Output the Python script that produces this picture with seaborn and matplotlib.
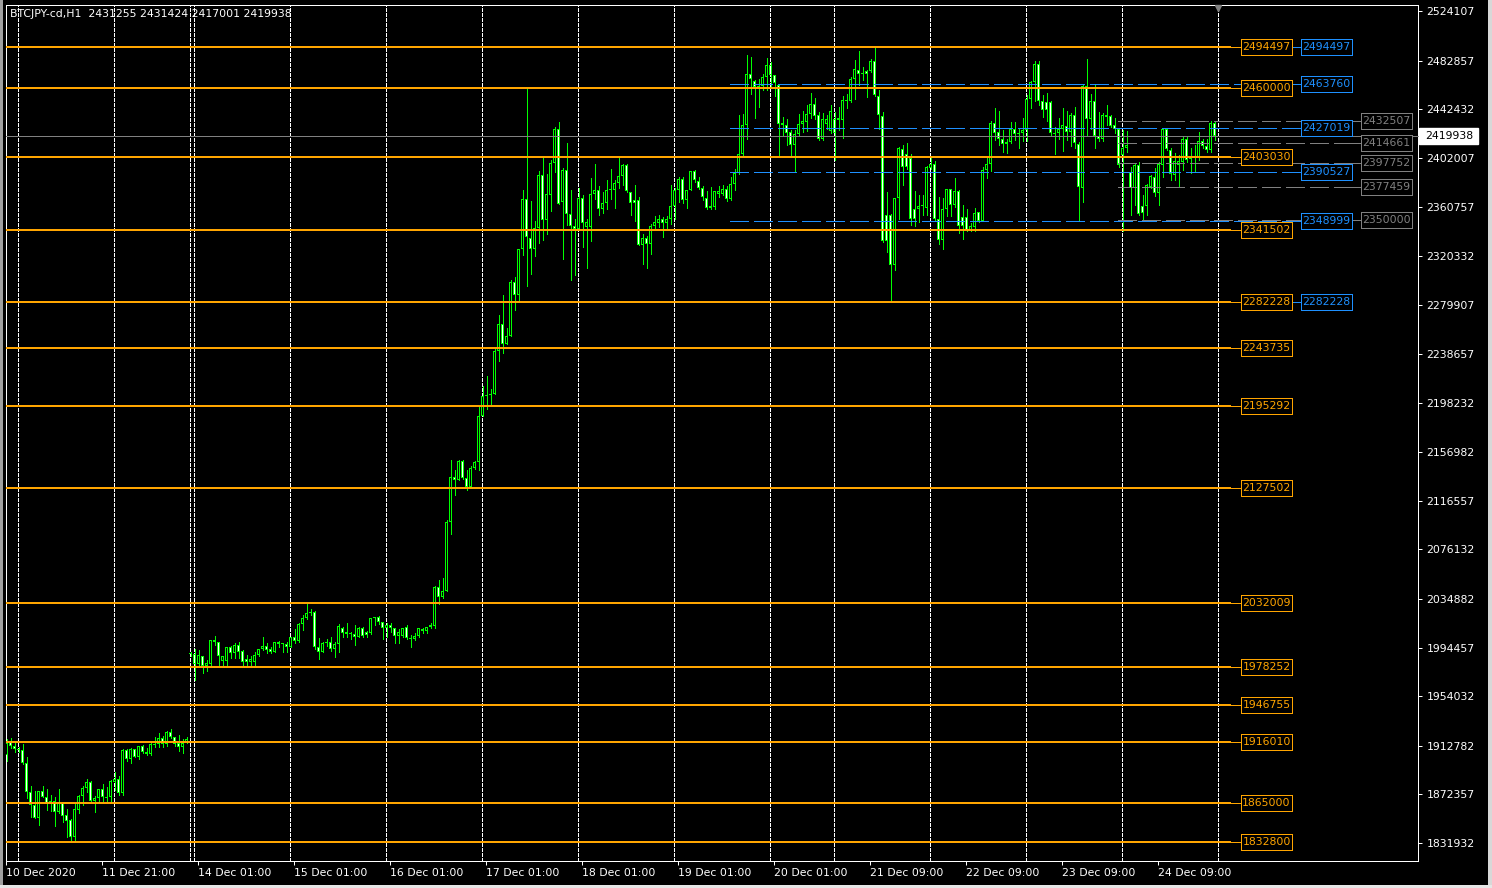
import matplotlib
matplotlib.use("Agg")
import matplotlib.pyplot as plt
from matplotlib.patches import Rectangle
import seaborn as sns

# BTCJPY H1 candles, prices in thousands of JPY
opens = [
    1905.1, 1916.2, 1912.8, 1909.8, 1909.2, 1898.7, 1874.6, 1863.5, 1853.0, 1875.1,
    1870.4, 1864.3, 1867.1, 1857.9, 1865.4, 1854.9, 1851.0, 1837.1, 1859.3, 1871.3,
    1877.4, 1882.9, 1867.1, 1869.6, 1876.5, 1869.9, 1869.9, 1882.9, 1884.8, 1873.8,
    1909.2, 1901.5, 1909.8, 1903.1, 1912.6, 1907.9, 1905.6, 1913.1, 1914.2, 1919.0,
    1914.2, 1924.5, 1919.8, 1914.8, 1912.0, 1915.3, 1989.2, 1989.2, 1980.8, 1987.5,
    1979.2, 1980.8, 2000.8, 1998.9, 1983.6, 1983.6, 1994.7, 1990.3, 1996.6, 1991.6,
    1985.0, 1982.8, 1982.8, 1988.3, 1993.0, 1995.8, 1993.3, 1991.1, 1998.9, 1998.0,
    1997.5, 1995.3, 2003.0, 2000.3, 2013.8, 2018.8, 2023.0, 2024.1, 1995.3, 1991.1,
    1998.6, 1998.9, 1993.0, 1997.5, 2010.5, 2007.2, 2006.1, 2005.8, 2003.6, 2011.1,
    2007.5, 2006.4, 2019.1, 2019.7, 2015.5, 2010.5, 2013.0, 2010.5, 2004.4, 2004.4,
    2011.3, 2002.2, 2001.4, 2004.1, 2009.7, 2008.0, 2011.3, 2012.4, 2044.7, 2036.7,
    2041.9, 2099.1, 2136.3, 2134.0, 2149.7, 2135.4, 2128.3, 2144.0, 2148.9, 2187.0,
    2204.1, 2204.7, 2205.6, 2241.3, 2263.4, 2247.1, 2253.8, 2298.6, 2288.0, 2325.8,
    2367.3, 2334.9, 2325.8, 2343.5, 2388.0, 2349.9, 2370.7, 2397.6, 2425.6, 2365.1,
    2391.5, 2355.4, 2344.9, 2342.4, 2368.5, 2344.3, 2344.3, 2371.5, 2374.8, 2359.0,
    2364.3, 2374.8, 2374.8, 2381.2, 2386.5, 2396.2, 2373.4, 2366.5, 2366.5, 2329.1,
    2335.2, 2330.5, 2344.9, 2347.9, 2350.7, 2347.9, 2350.7, 2361.5, 2374.8, 2384.0,
    2366.5, 2374.8, 2390.6, 2382.3, 2376.8, 2368.5, 2360.1, 2361.0, 2372.1, 2372.1,
    2375.7, 2367.3, 2380.4, 2389.5, 2405.5, 2429.6, 2471.5, 2465.7, 2461.0, 2461.8,
    2469.3, 2479.0, 2470.7, 2462.9, 2431.3, 2429.1, 2423.5, 2413.0, 2422.1, 2430.5,
    2431.8, 2438.8, 2446.5, 2437.9, 2417.4, 2430.5, 2424.1, 2434.6, 2433.2, 2433.2,
    2449.0, 2449.0, 2467.3, 2474.8, 2471.5, 2474.0, 2474.0, 2482.3, 2453.5, 2436.8,
    2354.2, 2354.2, 2312.6, 2368.6, 2409.7, 2405.5, 2401.9, 2359.2, 2359.2, 2361.7,
    2360.6, 2393.6, 2396.6, 2350.9, 2333.4, 2359.2, 2375.8, 2362.5, 2374.2, 2352.8,
    2353.1, 2342.0, 2344.8, 2356.5, 2349.0, 2392.0, 2396.7, 2431.3, 2423.8, 2417.7,
    2415.5, 2415.5, 2426.1, 2423.0, 2422.5, 2425.2, 2451.0, 2464.9, 2480.1, 2449.4,
    2448.8, 2448.3, 2423.0, 2422.5, 2426.1, 2428.8, 2423.3, 2437.7, 2413.3, 2376.7,
    2461.3, 2434.4, 2449.4, 2420.2, 2417.7, 2437.7, 2436.9, 2429.4, 2426.1, 2403.9,
    2410.0, 2390.0, 2376.7, 2396.1, 2361.5, 2361.5, 2378.1, 2385.6, 2372.5, 2396.1,
    2426.1, 2408.6, 2387.8, 2396.1, 2398.9, 2417.7, 2401.2, 2402.1, 2401.7, 2416.1,
    2411.4, 2408.6, 2431.255,
]
highs = [
    1918.1, 1919.0, 1914.8, 1911.5, 1914.2, 1903.7, 1879.3, 1875.4, 1875.1, 1879.3,
    1876.5, 1871.8, 1869.9, 1876.8, 1865.4, 1859.9, 1851.6, 1864.9, 1871.8, 1879.3,
    1884.8, 1883.5, 1871.0, 1876.5, 1881.0, 1878.7, 1884.3, 1891.2, 1887.6, 1909.8,
    1910.1, 1910.6, 1910.1, 1912.6, 1913.4, 1910.6, 1914.8, 1920.3, 1923.1, 1920.9,
    1925.0, 1926.7, 1920.3, 1921.7, 1918.1, 1919.8, 1990.8, 1993.0, 1992.5, 1987.5,
    1984.2, 2000.8, 2004.1, 1999.4, 1987.5, 1995.3, 1995.8, 1998.0, 1998.9, 1992.5,
    1988.3, 1987.5, 1991.1, 1993.0, 2003.6, 1998.0, 1995.3, 1999.4, 2000.0, 1998.6,
    1998.9, 2003.0, 2009.7, 2014.7, 2021.6, 2030.8, 2026.3, 2024.7, 2002.2, 1999.4,
    2001.4, 2003.0, 1998.9, 2014.1, 2011.3, 2014.7, 2007.7, 2013.3, 2011.9, 2011.9,
    2008.6, 2019.4, 2019.4, 2020.8, 2016.1, 2014.7, 2014.7, 2011.1, 2009.7, 2010.5,
    2013.3, 2005.0, 2006.4, 2011.1, 2010.5, 2011.9, 2014.7, 2045.5, 2050.4, 2052.4,
    2100.3, 2150.3, 2142.6, 2150.3, 2150.3, 2142.6, 2145.5, 2149.8, 2195.6, 2211.9,
    2220.4, 2209.3, 2243.3, 2270.8, 2288.0, 2260.0, 2300.6, 2302.9, 2326.3, 2375.0,
    2459.7, 2365.8, 2349.2, 2390.7, 2401.7, 2388.7, 2399.8, 2427.5, 2431.7, 2393.4,
    2414.2, 2374.8, 2350.7, 2376.8, 2370.7, 2350.7, 2385.1, 2397.0, 2378.4, 2373.4,
    2383.2, 2392.9, 2383.2, 2401.7, 2397.0, 2397.0, 2373.4, 2379.0, 2369.3, 2338.8,
    2336.8, 2347.1, 2353.5, 2354.0, 2352.7, 2353.5, 2379.0, 2376.8, 2385.9, 2385.9,
    2374.8, 2390.6, 2391.5, 2385.9, 2378.4, 2374.0, 2377.6, 2374.0, 2378.4, 2379.5,
    2378.4, 2385.9, 2392.9, 2437.2, 2438.8, 2487.3, 2485.9, 2466.5, 2467.9, 2472.1,
    2485.1, 2481.8, 2471.2, 2463.7, 2436.0, 2434.1, 2424.9, 2424.9, 2438.8, 2440.7,
    2445.7, 2456.3, 2451.8, 2440.2, 2439.6, 2437.4, 2445.7, 2440.2, 2444.3, 2453.5,
    2455.4, 2469.3, 2483.1, 2490.6, 2477.6, 2474.8, 2484.5, 2493.4, 2458.2, 2440.2,
    2373.6, 2355.6, 2368.6, 2411.0, 2412.4, 2414.4, 2405.5, 2374.2, 2370.8, 2371.4,
    2395.2, 2401.9, 2399.1, 2369.5, 2368.6, 2376.4, 2376.4, 2385.3, 2375.0, 2362.5,
    2359.5, 2347.6, 2360.1, 2357.3, 2394.7, 2402.2, 2432.2, 2443.3, 2441.0, 2425.2,
    2417.7, 2431.6, 2431.6, 2426.1, 2434.9, 2454.4, 2466.0, 2482.6, 2482.6, 2454.4,
    2455.7, 2449.4, 2428.0, 2435.5, 2443.3, 2440.5, 2439.1, 2444.6, 2415.0, 2462.7,
    2484.3, 2454.9, 2463.2, 2439.9, 2439.1, 2445.5, 2437.7, 2435.5, 2426.6, 2424.7,
    2424.4, 2394.7, 2396.7, 2398.1, 2371.2, 2380.0, 2387.8, 2393.9, 2398.9, 2426.6,
    2426.6, 2410.0, 2405.8, 2403.9, 2418.9, 2420.5, 2410.0, 2412.8, 2423.3, 2417.7,
    2417.7, 2432.2, 2431.424,
]
lows = [
    1900.4, 1910.6, 1907.9, 1907.3, 1897.6, 1869.0, 1853.8, 1852.4, 1846.9, 1869.9,
    1859.3, 1858.8, 1846.0, 1857.1, 1849.6, 1837.1, 1833.8, 1834.4, 1856.6, 1863.5,
    1874.6, 1866.3, 1857.9, 1866.3, 1866.8, 1866.3, 1866.3, 1876.0, 1871.8, 1871.8,
    1900.4, 1898.7, 1903.1, 1901.5, 1906.5, 1905.1, 1905.1, 1912.0, 1911.5, 1912.0,
    1912.6, 1919.0, 1912.6, 1908.7, 1906.5, 1914.8, 1987.8, 1967.5, 1980.0, 1973.1,
    1975.3, 1979.2, 1996.6, 1979.2, 1979.2, 1979.2, 1985.6, 1985.6, 1985.6, 1980.0,
    1979.2, 1980.0, 1979.2, 1987.5, 1992.5, 1990.3, 1989.7, 1990.5, 1995.3, 1991.1,
    1991.1, 1994.7, 1998.6, 1999.4, 2009.1, 2018.0, 2021.6, 1993.0, 1984.7, 1990.5,
    1995.8, 1991.9, 1987.0, 1991.1, 2003.0, 2003.6, 2001.4, 1996.6, 2003.0, 2003.0,
    2003.6, 2005.8, 2013.3, 2013.8, 2001.6, 2003.6, 2007.7, 1998.0, 1998.6, 2003.6,
    2001.4, 1995.3, 2000.8, 2003.6, 2006.4, 2006.9, 2010.5, 2011.0, 2030.4, 2035.8,
    2041.9, 2088.8, 2121.1, 2134.0, 2134.6, 2125.4, 2128.3, 2143.2, 2142.6, 2187.0,
    2192.7, 2196.4, 2205.6, 2232.7, 2239.9, 2247.1, 2253.8, 2275.7, 2282.8, 2321.5,
    2295.7, 2305.2, 2320.0, 2331.5, 2333.8, 2338.8, 2357.4, 2390.1, 2363.7, 2318.0,
    2346.3, 2300.0, 2304.1, 2341.6, 2327.7, 2310.2, 2332.7, 2367.3, 2354.6, 2356.0,
    2359.6, 2367.3, 2360.1, 2376.8, 2379.0, 2373.4, 2354.6, 2349.0, 2329.1, 2313.8,
    2310.2, 2322.1, 2341.6, 2344.3, 2336.0, 2341.6, 2347.1, 2351.3, 2365.1, 2364.6,
    2360.1, 2374.8, 2381.8, 2375.7, 2366.5, 2359.0, 2359.6, 2359.0, 2369.3, 2371.2,
    2365.7, 2366.5, 2374.8, 2388.7, 2404.7, 2418.0, 2455.4, 2435.2, 2444.3, 2458.2,
    2458.2, 2461.0, 2453.5, 2403.6, 2421.3, 2412.4, 2404.1, 2390.3, 2421.3, 2423.5,
    2424.1, 2435.2, 2434.1, 2416.6, 2416.6, 2425.7, 2423.0, 2400.0, 2424.9, 2418.5,
    2443.0, 2448.5, 2451.3, 2462.4, 2466.5, 2452.6, 2473.4, 2453.5, 2425.7, 2332.0,
    2323.7, 2282.1, 2308.4, 2351.4, 2379.7, 2393.0, 2346.4, 2345.3, 2348.7, 2354.2,
    2354.2, 2393.0, 2350.0, 2330.6, 2325.9, 2353.6, 2353.6, 2361.1, 2339.8, 2334.8,
    2340.7, 2340.7, 2340.7, 2348.4, 2349.0, 2385.0, 2390.6, 2416.9, 2412.8, 2407.2,
    2405.8, 2414.1, 2416.9, 2410.5, 2416.1, 2416.1, 2443.3, 2449.4, 2446.0, 2436.3,
    2432.7, 2421.1, 2405.0, 2417.7, 2407.8, 2416.9, 2412.2, 2410.0, 2349.0, 2365.6,
    2419.7, 2426.1, 2410.0, 2416.1, 2416.1, 2429.4, 2428.0, 2422.5, 2394.7, 2340.7,
    2407.2, 2354.5, 2362.8, 2354.5, 2350.4, 2354.5, 2376.7, 2370.6, 2362.8, 2385.6,
    2408.6, 2383.6, 2383.6, 2377.3, 2392.0, 2398.3, 2389.2, 2391.1, 2400.3, 2410.0,
    2407.2, 2407.2, 2417.001,
]
closes = [
    1915.3, 1912.8, 1909.8, 1909.2, 1898.7, 1874.6, 1863.5, 1853.0, 1875.1, 1870.4,
    1865.4, 1867.1, 1857.9, 1865.4, 1854.3, 1850.5, 1837.1, 1859.9, 1871.3, 1877.4,
    1882.9, 1867.1, 1869.6, 1876.5, 1869.9, 1869.6, 1883.5, 1884.8, 1873.2, 1909.2,
    1901.5, 1909.8, 1903.7, 1912.6, 1907.9, 1905.6, 1914.2, 1914.0, 1919.0, 1914.2,
    1924.5, 1919.8, 1914.0, 1912.0, 1915.3, 1918.7, 1989.4, 1980.8, 1988.0, 1979.2,
    1981.4, 2000.8, 1999.1, 1987.8, 1987.2, 1994.7, 1990.3, 1996.6, 1991.1, 1982.8,
    1982.8, 1985.0, 1988.3, 1993.0, 1995.8, 1992.5, 1991.1, 1998.9, 1997.2, 1997.5,
    1995.3, 2003.0, 2000.3, 2013.8, 2018.8, 2023.0, 2023.8, 1994.7, 1991.1, 1998.6,
    1999.1, 1993.0, 1997.5, 2012.5, 2006.4, 2005.5, 2006.1, 2003.6, 2011.1, 2004.1,
    2005.2, 2018.8, 2019.4, 2015.5, 2010.5, 2013.0, 2010.5, 2004.4, 2007.7, 2010.5,
    2002.2, 2001.9, 2004.1, 2010.5, 2008.0, 2011.3, 2013.3, 2044.7, 2036.7, 2041.9,
    2099.1, 2136.3, 2134.0, 2149.7, 2135.4, 2128.3, 2144.0, 2148.9, 2187.0, 2204.1,
    2204.7, 2205.6, 2241.3, 2263.4, 2247.1, 2253.8, 2298.6, 2288.0, 2325.8, 2367.3,
    2335.8, 2325.8, 2343.5, 2388.0, 2349.9, 2371.5, 2397.6, 2425.6, 2363.7, 2391.5,
    2355.4, 2344.9, 2342.4, 2368.5, 2347.9, 2348.5, 2371.5, 2374.8, 2359.0, 2364.3,
    2374.8, 2374.8, 2381.2, 2386.5, 2396.2, 2374.3, 2364.6, 2364.6, 2329.1, 2335.2,
    2330.5, 2344.9, 2348.5, 2350.7, 2347.9, 2350.7, 2361.5, 2374.8, 2384.0, 2366.5,
    2374.8, 2390.6, 2383.2, 2376.8, 2369.3, 2360.1, 2361.8, 2374.0, 2374.0, 2375.7,
    2367.3, 2380.4, 2389.5, 2405.3, 2429.1, 2471.5, 2467.3, 2461.0, 2461.8, 2469.3,
    2479.0, 2470.7, 2464.6, 2430.5, 2429.6, 2423.0, 2413.0, 2422.1, 2430.5, 2432.4,
    2438.8, 2446.5, 2436.8, 2417.4, 2434.6, 2434.1, 2440.7, 2423.0, 2435.2, 2449.9,
    2449.0, 2467.3, 2476.2, 2471.5, 2471.5, 2471.5, 2482.3, 2454.0, 2437.4, 2332.6,
    2332.6, 2312.6, 2368.6, 2410.2, 2394.4, 2394.4, 2350.9, 2350.9, 2362.0, 2361.7,
    2394.4, 2396.6, 2350.9, 2333.4, 2359.2, 2375.8, 2362.5, 2374.2, 2345.3, 2345.3,
    2342.0, 2345.6, 2355.9, 2349.0, 2392.0, 2396.7, 2431.3, 2422.5, 2417.7, 2413.3,
    2413.3, 2426.1, 2421.6, 2421.6, 2425.2, 2451.0, 2464.9, 2480.1, 2449.4, 2441.9,
    2441.9, 2422.5, 2421.6, 2426.1, 2429.4, 2423.3, 2437.7, 2414.1, 2377.3, 2461.3,
    2434.4, 2449.4, 2419.7, 2417.7, 2437.7, 2436.3, 2428.8, 2426.1, 2396.1, 2410.0,
    2412.8, 2376.7, 2396.1, 2355.1, 2355.9, 2379.5, 2387.2, 2372.5, 2396.7, 2426.1,
    2409.4, 2388.4, 2399.4, 2399.4, 2417.7, 2400.3, 2402.1, 2402.8, 2416.1, 2411.4,
    2408.6, 2431.3, 2419.938,
]

x_labels = ["10 Dec 2020", "11 Dec 21:00", "14 Dec 01:00", "15 Dec 01:00",
            "16 Dec 01:00", "17 Dec 01:00", "18 Dec 01:00", "19 Dec 01:00",
            "20 Dec 01:00", "21 Dec 09:00", "22 Dec 09:00", "23 Dec 09:00",
            "24 Dec 09:00"]
x_label_bars = [0, 24, 48, 72, 96, 120, 144, 168, 192, 216, 240, 264, 288]
day_breaks = [3, 27, 46, 47, 71, 95, 119, 143, 167, 191, 207, 231, 255, 279, 303]

y_ticks = [2524107, 2482857, 2442432, 2402007, 2360757, 2320332, 2279907,
           2238657, 2198232, 2156982, 2116557, 2076132, 2034882, 1994457,
           1954032, 1912782, 1872357, 1831932]

orange_levels = [2494497, 2460000, 2403030, 2341502, 2282228, 2243735, 2195292,
                 2127502, 2032009, 1978252, 1946755, 1916010, 1865000, 1832800]
blue_levels = [2494497, 2463760, 2427019, 2390527, 2348999, 2282228]
blue_dashed = [2463760, 2427019, 2390527, 2348999]
gray_levels = [2432507, 2414661, 2397752, 2377459, 2350000]
bid = 2419938
title = "BTCJPY-cd,H1  2431255 2431424 2417001 2419938"

ORANGE = "#FFA500"
BLUE = "#1E90FF"
GRAY = "#808080"
GREEN = "#00FF00"

sns.set_theme(style="dark", rc={"axes.facecolor": "black",
                                "figure.facecolor": "black",
                                "axes.edgecolor": "white",
                                "lines.scale_dashes": False})
plt.rcParams["font.family"] = ["DejaVu Sans"]

W, H = 1492, 888
PPX = 831.94   # price per pixel
LW1 = 0.72     # one pixel in points


def bx(px):
    # pixel column -> bar index
    return (px - 6.5) / 4.0


fig = plt.figure(figsize=(W / 100, H / 100), dpi=100)
ax = fig.add_axes([6 / W, 1 - 861 / H, 1412 / W, 856 / H])
ax.set_facecolor("black")
ax.set_xlim(bx(6), bx(1418))
ax.set_ylim(2524107 - 850 * PPX, 2524107 + 6 * PPX)

# day separators
ax.vlines([b - 0.125 for b in day_breaks], *ax.get_ylim(), colors="white",
          linewidth=LW1, linestyles=[(0, (2.2, 1.4))], zorder=1,
          antialiased=False)

# candles: wick, 3 px green body, 1 px black/white core
o = [v * 1000 for v in opens]
h = [v * 1000 for v in highs]
l = [v * 1000 for v in lows]
c = [v * 1000 for v in closes]
idx = list(range(len(c)))
ax.vlines(idx, l, h, colors=GREEN, linewidth=LW1, zorder=3, antialiased=False)
bottoms = [min(oo, cc) for oo, cc in zip(o, c)]
heights = [max(abs(cc - oo), PPX) for oo, cc in zip(o, c)]
ax.bar(idx, heights, bottom=bottoms, width=0.75, color=GREEN, linewidth=0,
       zorder=3, antialiased=False)
core_x, core_b, core_h, core_c = [], [], [], []
for i, (oo, cc) in enumerate(zip(o, c)):
    if abs(cc - oo) > 2 * PPX:
        core_x.append(i)
        core_b.append(min(oo, cc) + PPX)
        core_h.append(abs(cc - oo) - 2 * PPX)
        core_c.append("black" if cc >= oo else "white")
ax.bar(core_x, core_h, bottom=core_b, width=0.25, color=core_c, linewidth=0,
       zorder=3.5, antialiased=False)

BOX_W = 51 / 4.0
BOX_H = 16 * PPX


def label_box(px_left, y, text, col, face="black", tcol=None):
    x0 = bx(px_left)
    ax.add_patch(Rectangle((x0, y - BOX_H / 2), BOX_W, BOX_H, facecolor=face,
                           edgecolor=col, linewidth=LW1, zorder=6,
                           clip_on=False, antialiased=False))
    ax.text(x0 + BOX_W / 2, y, text, color=tcol or col, fontsize=7.8,
            ha="center", va="center", zorder=7, clip_on=False)


# orange support/resistance levels
ax.hlines(orange_levels, bx(6), bx(1231), colors=ORANGE, linewidth=2 * LW1,
          zorder=4, antialiased=False)
ax.hlines(orange_levels, bx(1231), bx(1241), colors=ORANGE, linewidth=LW1,
          zorder=4, antialiased=False)
for v in orange_levels:
    label_box(1241, v, str(v), ORANGE)

# blue levels
ax.hlines(blue_dashed, bx(730), bx(1282), colors=BLUE, linewidth=LW1,
          linestyles=[(0, (13, 4.3))], zorder=4, antialiased=False)
ax.hlines(blue_dashed, bx(1282), bx(1301), colors=BLUE, linewidth=LW1,
          zorder=4, antialiased=False)
ax.hlines([v for v in blue_levels if v not in blue_dashed], bx(1292), bx(1301),
          colors=BLUE, linewidth=LW1, zorder=4, antialiased=False)
for v in blue_levels:
    label_box(1301, v, str(v), BLUE)

# gray levels
ax.hlines(gray_levels, bx(1118), bx(1342), colors=GRAY, linewidth=LW1,
          linestyles=[(0, (13, 4.3))], zorder=4, antialiased=False)
ax.hlines(gray_levels, bx(1342), bx(1361), colors=GRAY, linewidth=LW1,
          zorder=4, antialiased=False)
for v in gray_levels:
    label_box(1361, v, str(v), GRAY)

# bid line and its axis label
ax.hlines([bid], bx(6), bx(1419), colors=GRAY, linewidth=LW1, zorder=4,
          clip_on=False, antialiased=False)
x0 = bx(1419)
ax.add_patch(Rectangle((x0, bid - 8 * PPX), 59 / 4.0, 16 * PPX,
                       facecolor="white", edgecolor="white", zorder=6,
                       clip_on=False))
ax.text(x0 + 6 / 4.0, bid, str(bid), color="black", fontsize=7.8, ha="left",
        va="center", zorder=7, clip_on=False)

# shift marker at the top
ax.plot([bx(1218)], [2524107 + 3 * PPX], marker="v", markersize=5,
        color=GRAY, zorder=5, clip_on=False)

# axes
ax.yaxis.tick_right()
ax.set_yticks(y_ticks)
ax.set_yticklabels([str(v) for v in y_ticks])
ax.set_xticks([b - 0.125 for b in x_label_bars])
ax.set_xticklabels(x_labels)
for t in ax.get_xticklabels():
    t.set_horizontalalignment("left")
ax.tick_params(axis="both", colors="white", labelcolor="white", labelsize=7.8,
               length=3, width=LW1, direction="out", pad=2)
ax.tick_params(axis="y", pad=3)
ax.tick_params(axis="x", bottom=True)
ax.tick_params(axis="y", right=True, left=False)
for s in ax.spines.values():
    s.set_color("white")
    s.set_linewidth(LW1)
ax.grid(False)

fig.text(10 / W, 1 - 14 / H, title, color="white", fontsize=7.8,
         ha="left", va="center")

# window frame strips
fig.patches.append(Rectangle((0, 0), 3 / W, 1, transform=fig.transFigure,
                             facecolor="#a0a0a0", edgecolor="none"))
fig.patches.append(Rectangle((1 - 4 / W, 0), 4 / W, 1, transform=fig.transFigure,
                             facecolor="#d8d8d8", edgecolor="none"))
fig.patches.append(Rectangle((0, 0), 1, 3 / H, transform=fig.transFigure,
                             facecolor="#e6e6e6", edgecolor="none"))

fig.savefig("out.png", dpi=100, facecolor="black")
